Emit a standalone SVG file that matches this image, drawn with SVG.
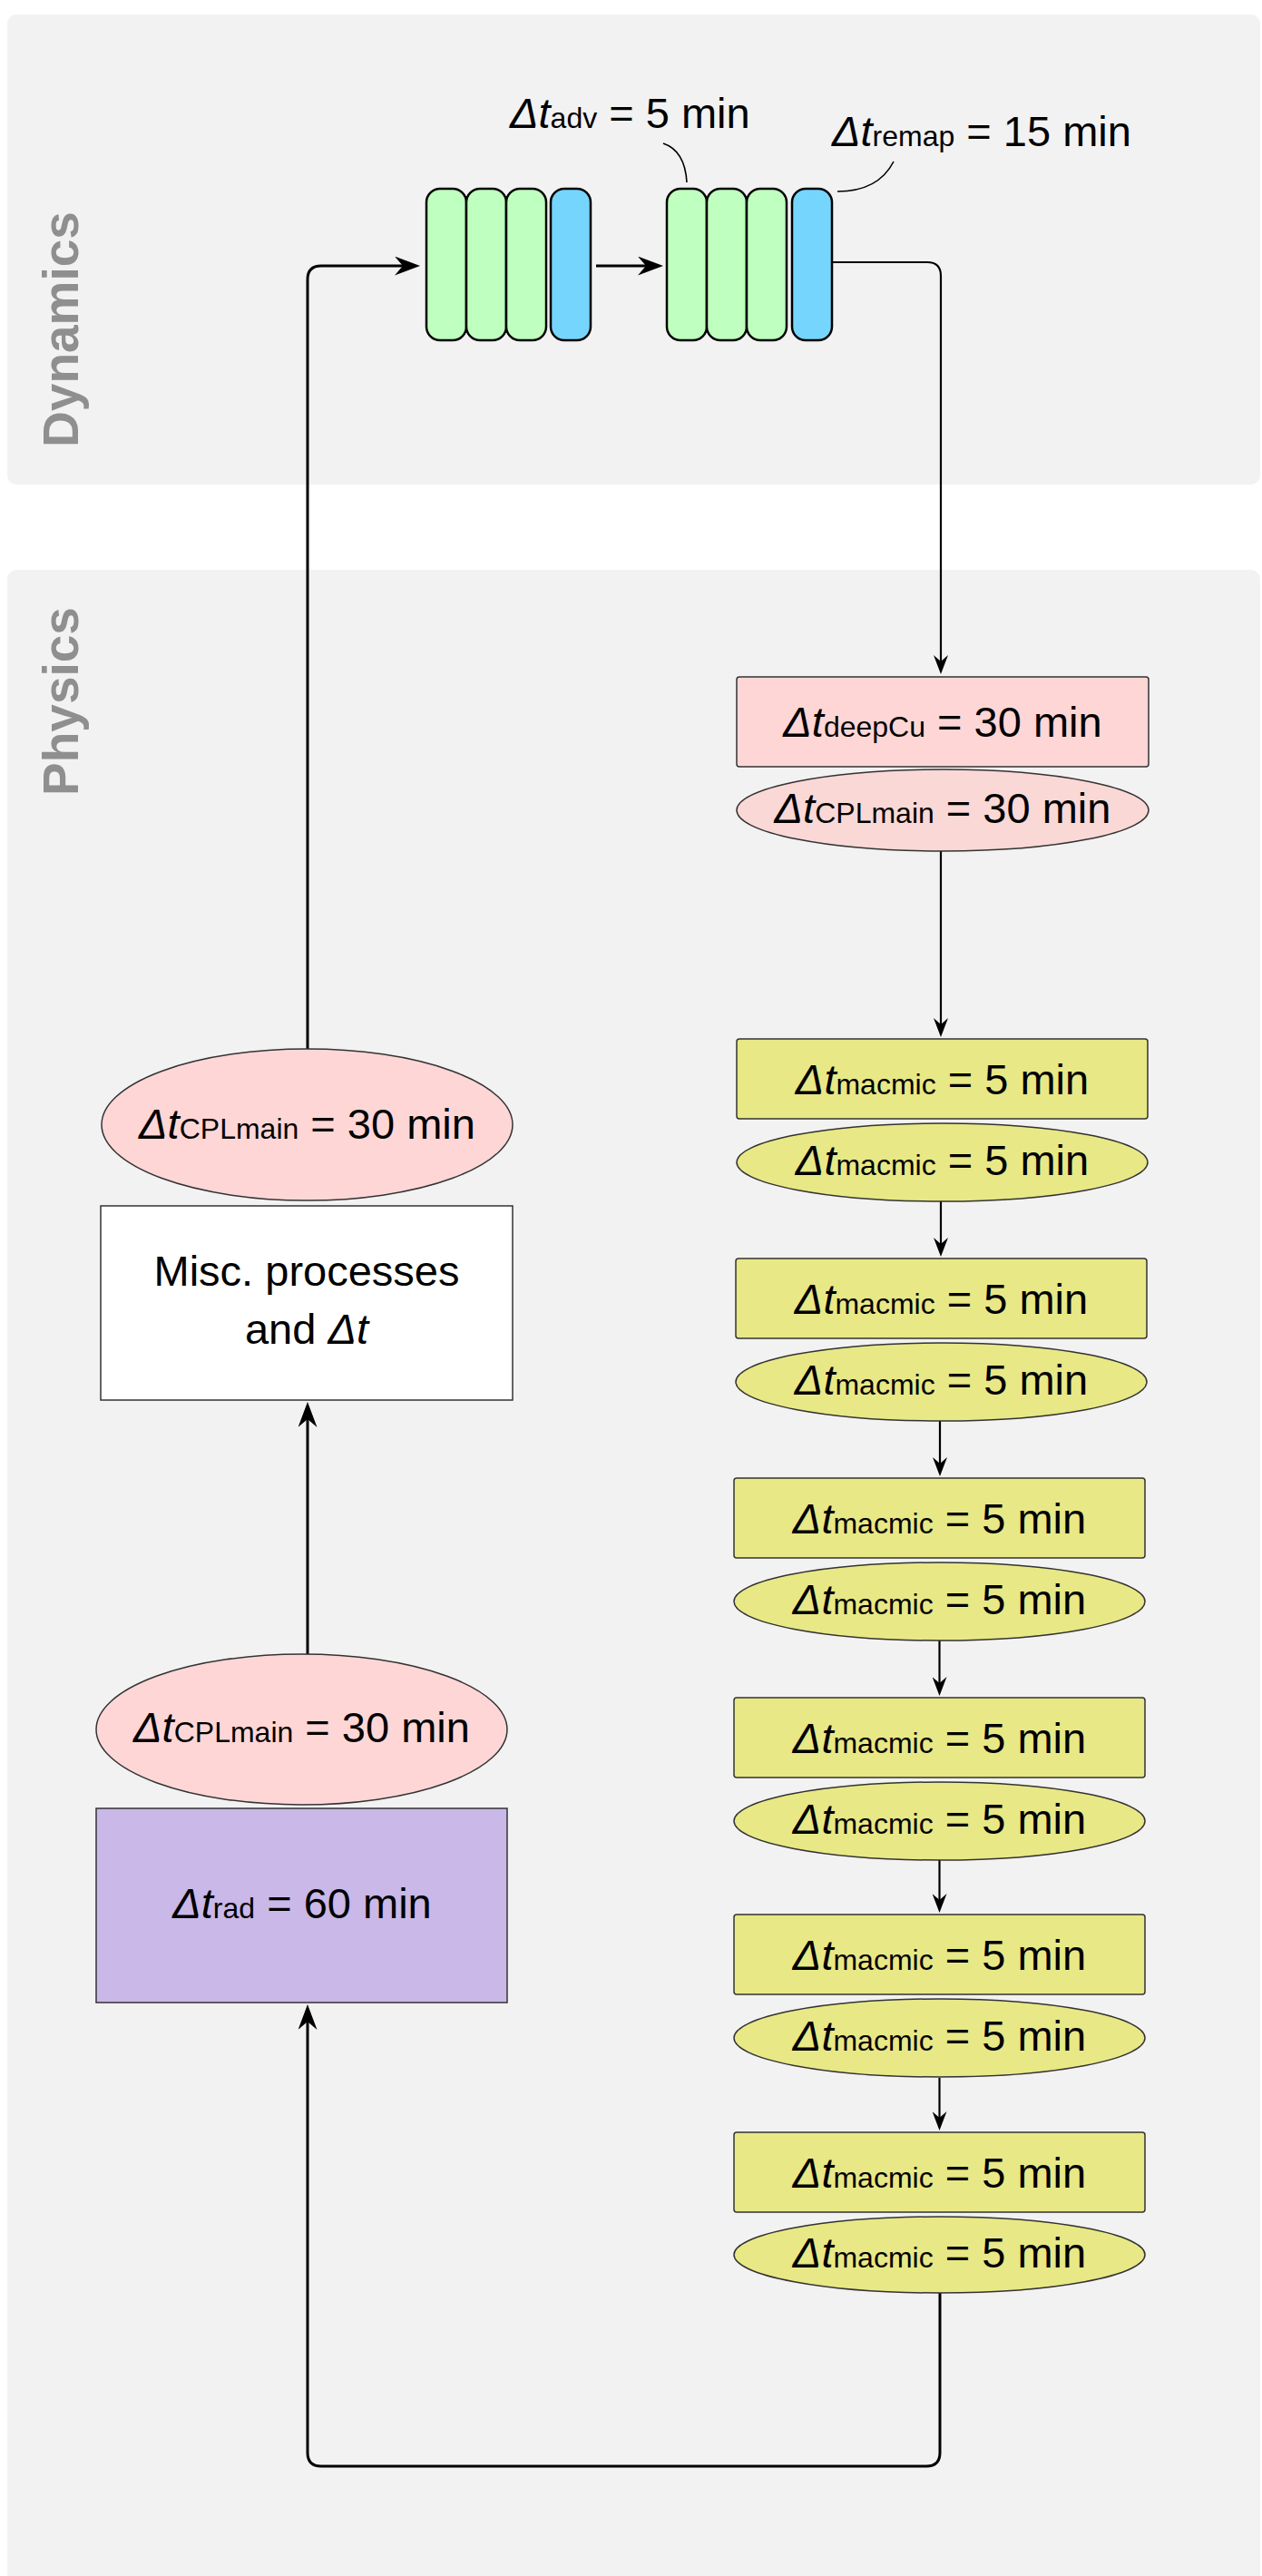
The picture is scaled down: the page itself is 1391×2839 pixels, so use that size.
<svg xmlns="http://www.w3.org/2000/svg" width="1391" height="2839" viewBox="0 0 1391 2839">
<style>
text{font-family:"Liberation Sans",Arial,Helvetica,sans-serif;fill:#000;font-size:47px}
.lbl{font-weight:bold;font-size:55px;fill:#8f8f8f}
.d{font-style:italic}
.s{font-size:32px}
.panel{fill:#f2f2f2}
.bar{stroke:#000;stroke-width:2.5}
.g{fill:#bfffbf}
.b{fill:#76d5fd}
.node{stroke:#333;stroke-width:1.5}
.pink{fill:#ffd6d6}
.pink2{fill:#fad8d5}
.yel{fill:#e8e886}
.pur{fill:#c9b8e8}
.wht{fill:#fff}
.cb{fill:none;stroke:#000;stroke-width:3}
.cs{fill:none;stroke:#000;stroke-width:2.2}
.call{fill:none;stroke:#000;stroke-width:1.6}
</style>
<defs>
<marker id="ab" viewBox="0 0 28 21" refX="9" refY="10.5" markerWidth="28" markerHeight="21" markerUnits="userSpaceOnUse" orient="auto"><path d="M0,0 L28,10.5 L0,21 L9,10.5 Z" fill="#000"/></marker>
<marker id="as" viewBox="0 0 21 16" refX="7" refY="8" markerWidth="21" markerHeight="16" markerUnits="userSpaceOnUse" orient="auto"><path d="M0,0 L21,8 L0,16 L7,8 Z" fill="#000"/></marker>
</defs>
<rect width="1391" height="2839" fill="#fff"/>
<g id="dynamics-panel">
<rect class="panel" x="8" y="16" width="1381" height="518" rx="10"/>
<text class="lbl" text-anchor="middle" transform="translate(86,363) rotate(-90)">Dynamics</text>
</g>
<g id="physics-panel">
<rect class="panel" x="8" y="628" width="1381" height="2240" rx="10"/>
<text class="lbl" text-anchor="middle" transform="translate(86,773) rotate(-90)">Physics</text>
</g>
<g id="connectors">
<path class="cb" d="M339,1156 V308 Q339,293 354,293 H444" marker-end="url(#ab)"/>
<path class="cb" d="M657,293 H712" marker-end="url(#ab)"/>
<path class="cs" d="M917,289 H1022 Q1037,289 1037,304 V729" marker-end="url(#as)"/>
<path class="cs" d="M1037,938 V1129" marker-end="url(#as)"/>
<path class="cs" d="M1037,1324 V1371" marker-end="url(#as)"/>
<path class="cs" d="M1036,1566 V1613" marker-end="url(#as)"/>
<path class="cs" d="M1035.5,1808 V1855" marker-end="url(#as)"/>
<path class="cs" d="M1035.5,2050 V2094" marker-end="url(#as)"/>
<path class="cs" d="M1035.5,2290 V2334" marker-end="url(#as)"/>
<path class="cb" d="M1036,2527 V2703 Q1036,2718 1021,2718 H354 Q339,2718 339,2703 V2228" marker-end="url(#ab)"/>
<path class="cb" d="M339,1823 V1564" marker-end="url(#ab)"/>
<path class="call" d="M731,158 Q755,166 757,201"/>
<path class="call" d="M985,178 Q968,211 923,211"/>
</g>
<g id="adv-group-1">
<rect class="bar g" x="470" y="208" width="44" height="167" rx="15"/>
<rect class="bar g" x="514" y="208" width="44" height="167" rx="15"/>
<rect class="bar g" x="558" y="208" width="44" height="167" rx="15"/>
<rect class="bar b" x="607" y="208" width="44" height="167" rx="15"/>
</g>
<g id="adv-group-2">
<rect class="bar g" x="735" y="208" width="44" height="167" rx="15"/>
<rect class="bar g" x="779" y="208" width="44" height="167" rx="15"/>
<rect class="bar g" x="823" y="208" width="44" height="167" rx="15"/>
<rect class="bar b" x="873" y="208" width="44" height="167" rx="15"/>
</g>
<g id="label-adv"><text x="562" y="141"><tspan class="d">Δt</tspan><tspan class="s">adv</tspan> = 5 min</text></g>
<g id="label-remap"><text x="917" y="161"><tspan class="d">Δt</tspan><tspan class="s">remap</tspan> = 15 min</text></g>
<g id="deepcu">
<rect class="node pink" x="812" y="746" width="454" height="99" rx="3"/>
<text x="1039" y="812" text-anchor="middle"><tspan class="d">Δt</tspan><tspan class="s">deepCu</tspan> = 30 min</text>
</g>
<g id="cpl-right">
<ellipse class="node pink2" cx="1039" cy="893" rx="227" ry="45"/>
<text x="1039" y="907" text-anchor="middle"><tspan class="d">Δt</tspan><tspan class="s">CPLmain</tspan> = 30 min</text>
</g>
<g id="macmic-1">
<rect class="node yel" x="812" y="1145" width="453" height="88" rx="3"/>
<text x="1038.5" y="1206" text-anchor="middle"><tspan class="d">Δt</tspan><tspan class="s">macmic</tspan> = 5 min</text>
<ellipse class="node yel" cx="1038.5" cy="1281" rx="226.5" ry="43"/>
<text x="1038.5" y="1295" text-anchor="middle"><tspan class="d">Δt</tspan><tspan class="s">macmic</tspan> = 5 min</text>
</g>
<g id="macmic-2">
<rect class="node yel" x="811" y="1387" width="453" height="88" rx="3"/>
<text x="1037.5" y="1448" text-anchor="middle"><tspan class="d">Δt</tspan><tspan class="s">macmic</tspan> = 5 min</text>
<ellipse class="node yel" cx="1037.5" cy="1523" rx="226.5" ry="43"/>
<text x="1037.5" y="1537" text-anchor="middle"><tspan class="d">Δt</tspan><tspan class="s">macmic</tspan> = 5 min</text>
</g>
<g id="macmic-3">
<rect class="node yel" x="809" y="1629" width="453" height="88" rx="3"/>
<text x="1035.5" y="1690" text-anchor="middle"><tspan class="d">Δt</tspan><tspan class="s">macmic</tspan> = 5 min</text>
<ellipse class="node yel" cx="1035.5" cy="1765" rx="226.5" ry="43"/>
<text x="1035.5" y="1779" text-anchor="middle"><tspan class="d">Δt</tspan><tspan class="s">macmic</tspan> = 5 min</text>
</g>
<g id="macmic-4">
<rect class="node yel" x="809" y="1871" width="453" height="88" rx="3"/>
<text x="1035.5" y="1932" text-anchor="middle"><tspan class="d">Δt</tspan><tspan class="s">macmic</tspan> = 5 min</text>
<ellipse class="node yel" cx="1035.5" cy="2007" rx="226.5" ry="43"/>
<text x="1035.5" y="2021" text-anchor="middle"><tspan class="d">Δt</tspan><tspan class="s">macmic</tspan> = 5 min</text>
</g>
<g id="macmic-5">
<rect class="node yel" x="809" y="2110" width="453" height="88" rx="3"/>
<text x="1035.5" y="2171" text-anchor="middle"><tspan class="d">Δt</tspan><tspan class="s">macmic</tspan> = 5 min</text>
<ellipse class="node yel" cx="1035.5" cy="2246" rx="226.5" ry="43"/>
<text x="1035.5" y="2260" text-anchor="middle"><tspan class="d">Δt</tspan><tspan class="s">macmic</tspan> = 5 min</text>
</g>
<g id="macmic-6">
<rect class="node yel" x="809" y="2350" width="453" height="88" rx="3"/>
<text x="1035.5" y="2411" text-anchor="middle"><tspan class="d">Δt</tspan><tspan class="s">macmic</tspan> = 5 min</text>
<ellipse class="node yel" cx="1035.5" cy="2485" rx="226.5" ry="42"/>
<text x="1035.5" y="2499" text-anchor="middle"><tspan class="d">Δt</tspan><tspan class="s">macmic</tspan> = 5 min</text>
</g>
<g id="cpl-left-top">
<ellipse class="node pink" cx="338.5" cy="1239.5" rx="226.5" ry="83.5"/>
<text x="338.5" y="1255" text-anchor="middle"><tspan class="d">Δt</tspan><tspan class="s">CPLmain</tspan> = 30 min</text>
</g>
<g id="misc">
<rect class="node wht" x="111" y="1329" width="454" height="214"/>
<text x="338" y="1417" text-anchor="middle">Misc. processes</text>
<text x="338" y="1481" text-anchor="middle">and <tspan class="d">Δt</tspan></text>
</g>
<g id="cpl-left-bottom">
<ellipse class="node pink" cx="332.5" cy="1906" rx="226.5" ry="83"/>
<text x="332.5" y="1920" text-anchor="middle"><tspan class="d">Δt</tspan><tspan class="s">CPLmain</tspan> = 30 min</text>
</g>
<g id="rad">
<rect class="node pur" x="106" y="1993" width="453" height="214"/>
<text x="333" y="2114" text-anchor="middle"><tspan class="d">Δt</tspan><tspan class="s">rad</tspan> = 60 min</text>
</g>
</svg>
